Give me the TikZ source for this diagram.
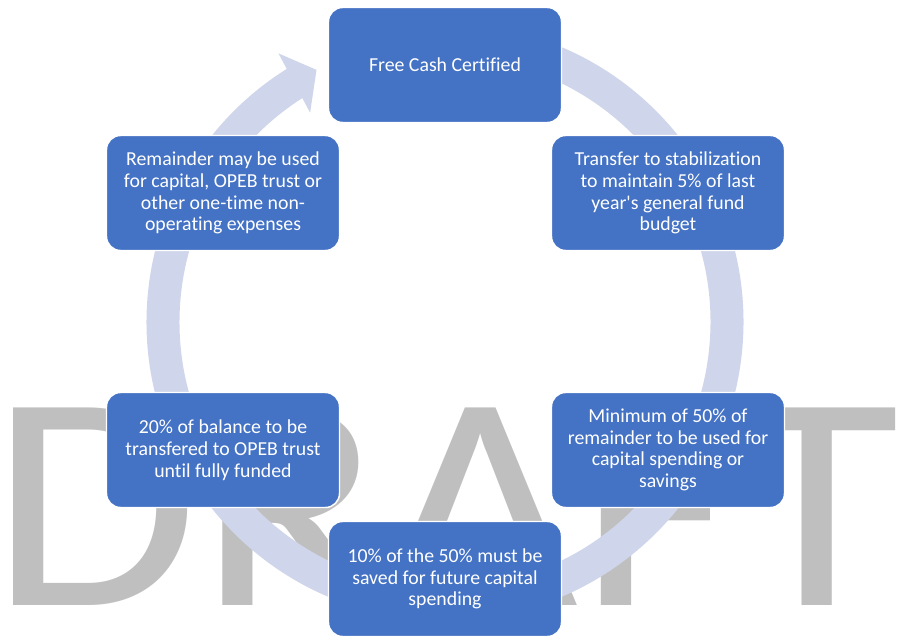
\documentclass[tikz,border=0pt]{standalone}
\usepackage{fontspec}
\setmainfont{Carlito}[Ligatures=NoCommon]
\usepackage{tikz}
\definecolor{stepblue}{HTML}{4472C4}
\definecolor{ringblue}{HTML}{CFD5EA}
\definecolor{markgrey}{HTML}{BFBFBF}
\tikzset{
	stepstyle/.style={rectangle,rounded corners=10.5pt,draw=white,line width=1.1pt,fill=stepblue,text=white,align=center,minimum width=174.75pt,minimum height=86.25pt,inner sep=2pt,font=\fontsize{14.85pt}{16.3pt}\selectfont},
	ringstyle/.style={draw=ringblue,line width=24.75pt},
	headstyle/.style={fill=ringblue},
	markstyle/.style={text=markgrey,inner sep=0pt,anchor=base,xscale=1.1,transform shape,font=\fontsize{231pt}{240pt}\selectfont}
}

\begin{document}
\begin{tikzpicture}[x=0.75pt,y=0.75pt]
	\useasboundingbox (0,0) rectangle (904,640);
	\node[markstyle] (draft) at (445,35) {DRAFT};
	\draw[ringstyle] (445,318) ++(85:282) arc[start angle=85,end angle=-238,radius=282];
	\fill[headstyle,shift={(445,318)}] (121.8:316) -- (117:283) -- (122.8:249) -- cycle;
	\node[stepstyle] (free) at (445,575) {Free Cash Certified};
	\node[stepstyle] (stab) at (668,447) {Transfer to stabilization\\to maintain 5\% of last\\year\textquotesingle s general fund\\budget};
	\node[stepstyle] (min) at (668,190) {Minimum of 50\% of\\remainder to be used for\\capital spending or\\savings};
	\node[stepstyle] (ten) at (445,61) {10\% of the 50\% must be\\saved for future capital\\spending};
	\node[stepstyle] (opeb) at (223,190) {20\% of balance to be\\transfered to OPEB trust\\until fully funded};
	\node[stepstyle] (rem) at (223,447) {Remainder may be used\\for capital, OPEB trust or\\other one-time non-\\operating expenses};
\end{tikzpicture}
\end{document}
